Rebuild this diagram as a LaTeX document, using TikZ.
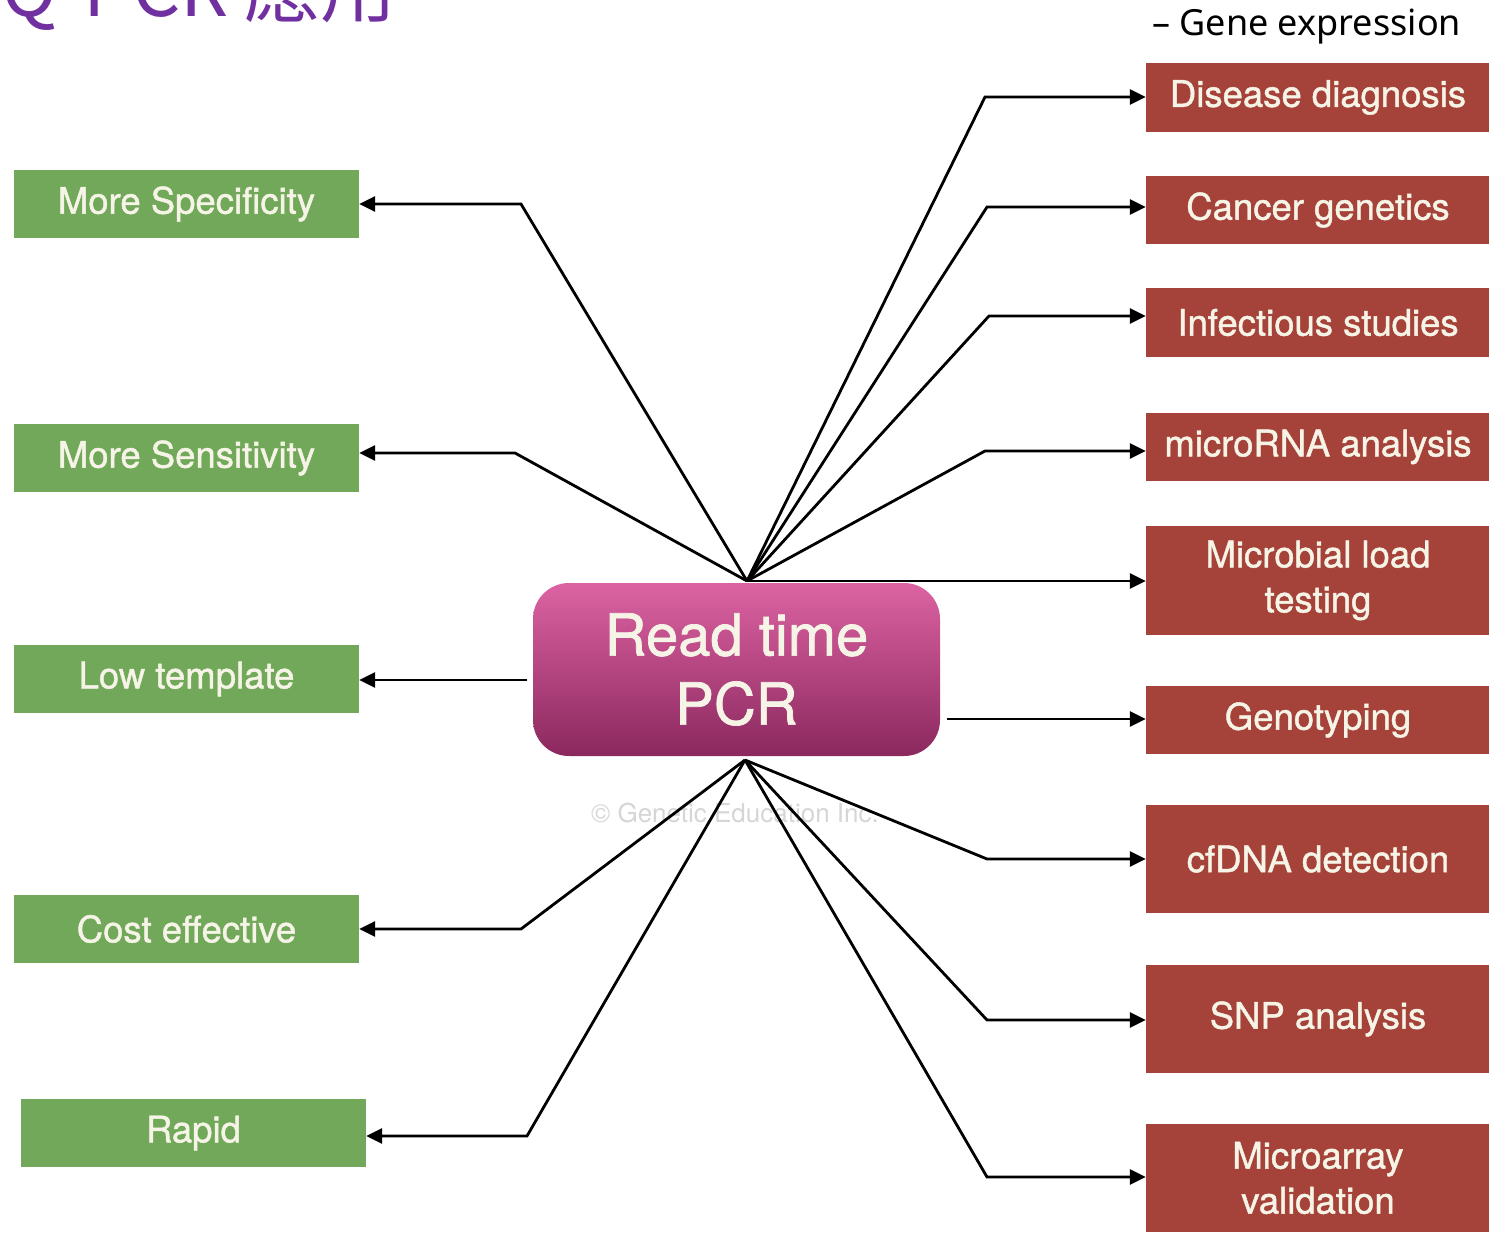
\documentclass[tikz,border=0pt]{standalone}
\usepackage{fontspec}
\setmainfont{TeX Gyre Heros}
\newfontfamily\boxfont{TeX Gyre Heros}[RawFeature={embolden=1.2}]
\newfontfamily\cjkfont{Noto Sans CJK TC}
\newfontfamily\notofont{Noto Sans}
\usetikzlibrary{arrows.meta,calc}
\definecolor{boxgreen}{HTML}{71A85A}
\definecolor{boxred}{HTML}{A5433A}
\definecolor{boxtext}{HTML}{F6F4E6}
\definecolor{pcrtop}{HTML}{DC63A3}
\definecolor{pcrbot}{HTML}{8B285E}
\definecolor{titlepurple}{HTML}{7030A0}
\definecolor{wmgray}{HTML}{D6D6D6}
\begin{document}
\begin{tikzpicture}[x=1pt,y=-1pt,
  lbox/.style={fill=boxgreen, text=boxtext, minimum width=345pt, minimum height=68pt,
    inner sep=0pt, font=\boxfont\fontsize{36.5}{45}\selectfont, align=center},
  rbox/.style={fill=boxred, text=boxtext, minimum width=344pt, inner sep=0pt,
    font=\boxfont\fontsize{36.5}{45}\selectfont, align=center},
  pcrbox/.style={rounded corners=36pt, top color=pcrtop, bottom color=pcrbot,
    text=boxtext, minimum width=407pt, minimum height=173pt, inner sep=0pt,
    font=\boxfont\fontsize{58}{69}\selectfont, align=center},
  link/.style={draw=black, line width=2.8pt, line join=miter,
    -{Triangle[length=16pt,width=15pt]}}]
\useasboundingbox (0,0) rectangle (1489,1239);
\fill[white] (0,0) rectangle (1489,1239);

% title and subtitle
\node[anchor=base east, text=titlepurple, font=\cjkfont\fontsize{76}{80}\selectfont, inner sep=0pt] (titleA) at (229,17) {Q-PCR};
\node[anchor=base west, text=titlepurple, font=\cjkfont\fontsize{76}{80}\selectfont, inner sep=0pt] (titleB) at (244,17) {應用};
\node[anchor=base west, text=black, font=\notofont\fontsize{36}{40}\selectfont, inner sep=0pt] (gene) at (1152,36) {– Gene expression};

% watermark
\node[text=wmgray, font=\fontsize{26}{30}\selectfont, inner sep=0pt] (wm) at (735,813) {© Genetic Education Inc.};

% central node
\node[pcrbox] (pcr) at (736.5,669.5) {Read time\\PCR};

% left boxes
\node[lbox] (spec) at (186.5,204) {More Specificity};
\node[lbox] (sens) at (186.5,458) {More Sensitivity};
\node[lbox] (low)  at (186.5,679) {Low template};
\node[lbox] (cost) at (186.5,929) {Cost effective};
\node[lbox] (rapid) at (193.5,1133) {Rapid};

% right boxes
\node[rbox, minimum height=69pt] (dis) at (1318,97.5) {Disease diagnosis};
\node[rbox, minimum height=68pt] (can) at (1318,210) {Cancer genetics};
\node[rbox, minimum height=69pt] (inf) at (1318,322.5) {Infectious studies};
\node[rbox, minimum height=68pt] (mir) at (1318,447) {microRNA analysis};
\node[rbox, minimum height=109pt] (mic) at (1318,580.5) {Microbial load\\testing};
\node[rbox, minimum height=68pt] (gen) at (1318,720) {Genotyping};
\node[rbox, minimum height=108pt] (cfd) at (1318,859) {cfDNA detection};
\node[rbox, minimum height=108pt] (snp) at (1318,1019) {SNP analysis};
\node[rbox, minimum height=108pt] (mar) at (1318,1178) {Microarray\\validation};

% hubs and elbows
\coordinate (ht) at (747,581);
\coordinate (hb) at (745,760);
\coordinate (lowstart) at (527,680);
\coordinate (genstart) at (947,719);
\coordinate (eSpec) at (521,204);
\coordinate (eSens) at (515,453);
\coordinate (eCost) at (521,929);
\coordinate (eRapid) at (527,1136);
\coordinate (eDis) at (985,97);
\coordinate (eCan) at (987,207);
\coordinate (eInf) at (989,316);
\coordinate (eMir) at (985,451);
\coordinate (eCfd) at (987,859);
\coordinate (eSnp) at (987,1020);
\coordinate (eMar) at (987,1177);

% connectors
\draw[link] (ht) -- (eSpec) -- (eSpec -| spec.east);
\draw[link] (ht) -- (eSens) -- (eSens -| sens.east);
\draw[link] (lowstart) -- (lowstart -| low.east);
\draw[link] (hb) -- (eCost) -- (eCost -| cost.east);
\draw[link] (hb) -- (eRapid) -- (eRapid -| rapid.east);
\draw[link] (ht) -- (eDis) -- (eDis -| dis.west);
\draw[link] (ht) -- (eCan) -- (eCan -| can.west);
\draw[link] (ht) -- (eInf) -- (eInf -| inf.west);
\draw[link] (ht) -- (eMir) -- (eMir -| mir.west);
\draw[link] (ht) -- (ht -| mic.west);
\draw[link] (genstart) -- (genstart -| gen.west);
\draw[link] (hb) -- (eCfd) -- (eCfd -| cfd.west);
\draw[link] (hb) -- (eSnp) -- (eSnp -| snp.west);
\draw[link] (hb) -- (eMar) -- (eMar -| mar.west);
\end{tikzpicture}
\end{document}
